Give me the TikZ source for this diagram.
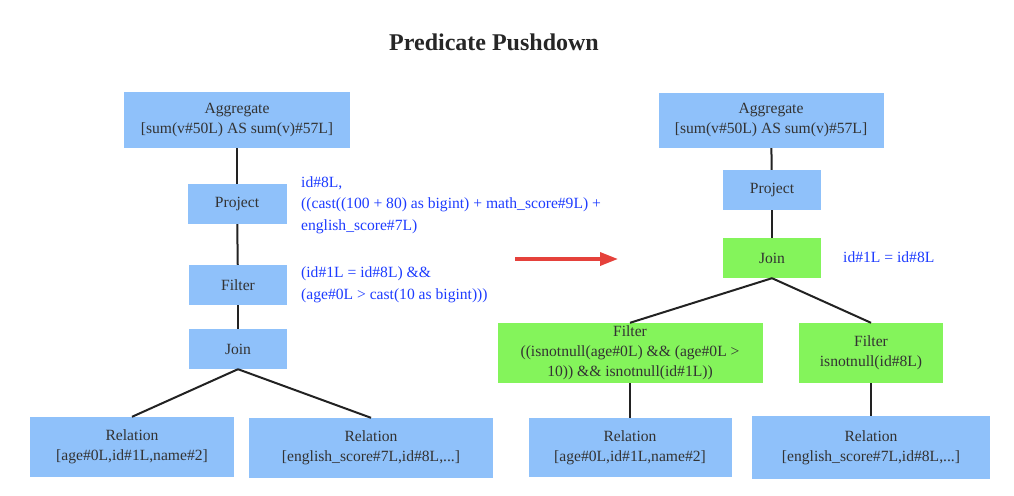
\documentclass[tikz,border=0pt]{standalone}
\usepackage{fontspec}
\setmainfont{Liberation Serif}
\usepackage{tikz}
\usetikzlibrary{positioning,arrows.meta}

\definecolor{planblue}{HTML}{8FC1FA}
\definecolor{plangreen}{HTML}{84F45B}
\definecolor{exprblue}{HTML}{1E3CFF}
\definecolor{arrowred}{HTML}{E5413B}
\definecolor{edgegray}{HTML}{222222}

\begin{document}
\begin{tikzpicture}[x=1pt,y=1pt]
		\tikzset{op/.style = {fill=planblue,inner sep=0pt,align=center,text=black!80,
				font=\fontsize{15.6}{20}\selectfont}}
		\tikzset{pushed/.style = {op,fill=plangreen}}
		\tikzset{expr/.style = {anchor=west,inner sep=0pt,align=left,text=exprblue,
				font=\fontsize{15.6}{21.5}\selectfont}}
		\tikzset{edge/.style = {draw=edgegray,line width=2pt}}
		\useasboundingbox (0,0) rectangle (1014,-495);

		% title
		\node[font=\fontsize{24}{28}\selectfont\bfseries,text=black!85] (title) at (494,-42){Predicate Pushdown};

		% original plan
		\node[op,minimum width=226,minimum height=56] (aggL) at (237,-120){Aggregate\\{}[sum(v\#50L) AS sum(v)\#57L]};
		\node[op,minimum width=99,minimum height=40] (projL) at (237,-204){Project};
		\node[op,minimum width=98,minimum height=40] (filtL) at (238,-285){Filter};
		\node[op,minimum width=98,minimum height=40] (joinL) at (238,-349){Join};
		\node[op,minimum width=204,minimum height=60] (relLa) at (132,-447){Relation\\{}[age\#0L,id\#1L,name\#2]};
		\node[op,minimum width=244,minimum height=60] (relLb) at (371,-448){Relation\\{}[english\_score\#7L,id\#8L,...]};

		% expressions of the original plan
		\node[expr] (projLexpr) at (301,-205){id\#8L,\\((cast((100 + 80) as bigint) + math\_score\#9L) +\\english\_score\#7L)};
		\node[expr] (filtLexpr) at (301,-285){(id\#1L = id\#8L) \&\&\\(age\#0L > cast(10 as bigint)))};

		% optimized plan
		\node[op,minimum width=225,minimum height=55] (aggR) at (771,-120.5){Aggregate\\{}[sum(v\#50L) AS sum(v)\#57L]};
		\node[op,minimum width=98,minimum height=40] (projR) at (772,-190){Project};
		\node[pushed,minimum width=98,minimum height=40] (joinR) at (772,-258){Join};
		\node[pushed,minimum width=265,minimum height=60] (filtRa) at (630,-353){Filter\\((isnotnull(age\#0L) \&\& (age\#0L >\\10)) \&\& isnotnull(id\#1L))};
		\node[pushed,minimum width=144,minimum height=60] (filtRb) at (871,-353){Filter\\isnotnull(id\#8L)};
		\node[op,minimum width=203,minimum height=59] (relRa) at (630,-447.5){Relation\\{}[age\#0L,id\#1L,name\#2]};
		\node[op,minimum width=238,minimum height=63] (relRb) at (871,-447.5){Relation\\{}[english\_score\#7L,id\#8L,...]};
		\node[expr] (joinRexpr) at (843,-257){id\#1L = id\#8L};

		% rewrite arrow
		\coordinate (arrfrom) at (515,-259);
		\coordinate (arrto) at (618,-259);
		\draw[draw=arrowred,line width=3.5pt,-{Triangle[length=18pt,width=13pt]}] (arrfrom) to (arrto);

		% edges of the original plan
		\draw[edge] (aggL) to (projL);
		\draw[edge] (projL) to (filtL);
		\draw[edge] (filtL) to (joinL);
		\draw[edge] (joinL.south) to (relLa.north);
		\draw[edge] (joinL.south) to (relLb.north);
		% edges of the optimized plan
		\draw[edge] (aggR) to (projR);
		\draw[edge] (projR) to (joinR);
		\draw[edge] (joinR.south) to (filtRa.north);
		\draw[edge] (joinR.south) to (filtRb.north);
		\draw[edge] (filtRa) to (relRa);
		\draw[edge] (filtRb) to (relRb);
	\end{tikzpicture}
\end{document}
